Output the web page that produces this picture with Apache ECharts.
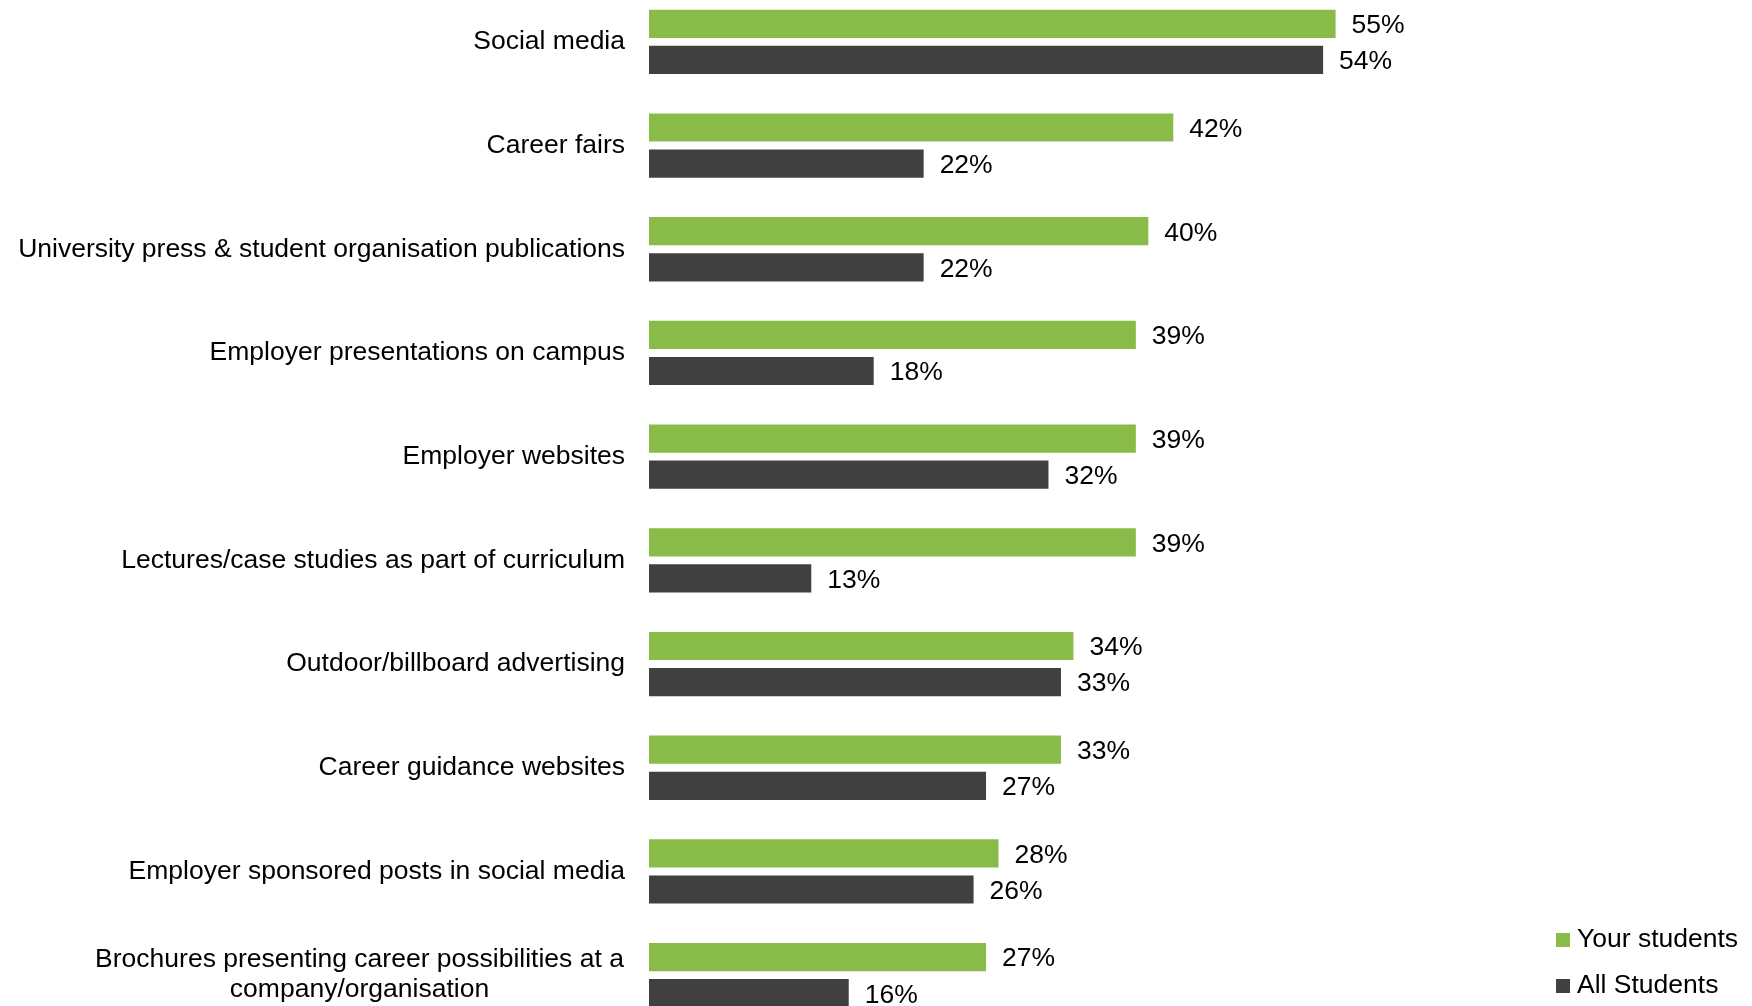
<!DOCTYPE html>
<html>
<head>
<meta charset="utf-8">
<script src="https://cdn.jsdelivr.net/npm/echarts@6/dist/echarts.min.js"></script>
<style>
  html, body { margin: 0; padding: 0; background: #ffffff; }
  #chart { width: 1752px; height: 1006px; }
</style>
</head>
<body>
<div id="chart"></div>
<script>
// Channels through which students hear about employers (% of respondents)
const categories = [
  'Social media',
  'Career fairs',
  'University press & student organisation publications',
  'Employer presentations on campus',
  'Employer websites',
  'Lectures/case studies as part of curriculum',
  'Outdoor/billboard advertising',
  'Career guidance websites',
  'Employer sponsored posts in social media',
  'Brochures presenting career possibilities at a\ncompany/organisation'
];
const yourStudents = [55, 42, 40, 39, 39, 39, 34, 33, 28, 27];
const allStudents = [54, 22, 22, 18, 32, 13, 33, 27, 26, 16];
const seriesNames = ['Your students', 'All Students'];

const FONT = '"Liberation Sans", Arial, sans-serif';
const FS = 26.5;

const chart = echarts.init(document.getElementById('chart'), null, { renderer: 'canvas' });

const valueLabel = {
  show: true,
  position: 'right',
  distance: 16,
  offset: [0, 2],
  formatter: p => p.value + '%',
  color: '#000000',
  fontFamily: FONT,
  fontSize: FS
};

chart.setOption({
  animation: false,
  backgroundColor: '#ffffff',
  textStyle: { fontFamily: FONT },
  grid: {
    left: 649, top: -10, width: 749, height: 1037,
    containLabel: false,
    outerBoundsMode: 'none'
  },
  xAxis: {
    type: 'value',
    min: 0,
    max: 60,
    show: false
  },
  yAxis: {
    type: 'category',
    data: categories,
    inverse: true,
    axisLine: { show: false },
    axisTick: { show: false },
    splitLine: { show: false },
    axisLabel: {
      margin: 24,
      color: '#000000',
      fontFamily: FONT,
      fontSize: FS,
      lineHeight: 30,
      formatter: v => v.indexOf('\n') >= 0
        ? v.split('\n').map(s => '{c|' + s + '}').join('\n')
        : v,
      rich: {
        c: { width: 531, align: 'center', fontSize: FS, fontFamily: FONT, color: '#000000', lineHeight: 30 }
      }
    }
  },
  legend: {
    orient: 'vertical',
    left: 1556,
    top: 926,
    padding: 0,
    itemWidth: 14,
    itemHeight: 14,
    itemGap: 18,
    icon: 'rect',
    textStyle: { color: '#000000', fontFamily: FONT, fontSize: FS, lineHeight: 28, padding: [0, 0, 0, 2] },
    data: seriesNames
  },
  series: [
    {
      name: seriesNames[0],
      type: 'bar',
      data: yourStudents,
      itemStyle: { color: '#89BB48' },
      barGap: '28%',
      barCategoryGap: '38%',
      label: valueLabel
    },
    {
      name: seriesNames[1],
      type: 'bar',
      data: allStudents,
      itemStyle: { color: '#404040' },
      label: valueLabel
    }
  ]
});
</script>
</body>
</html>
